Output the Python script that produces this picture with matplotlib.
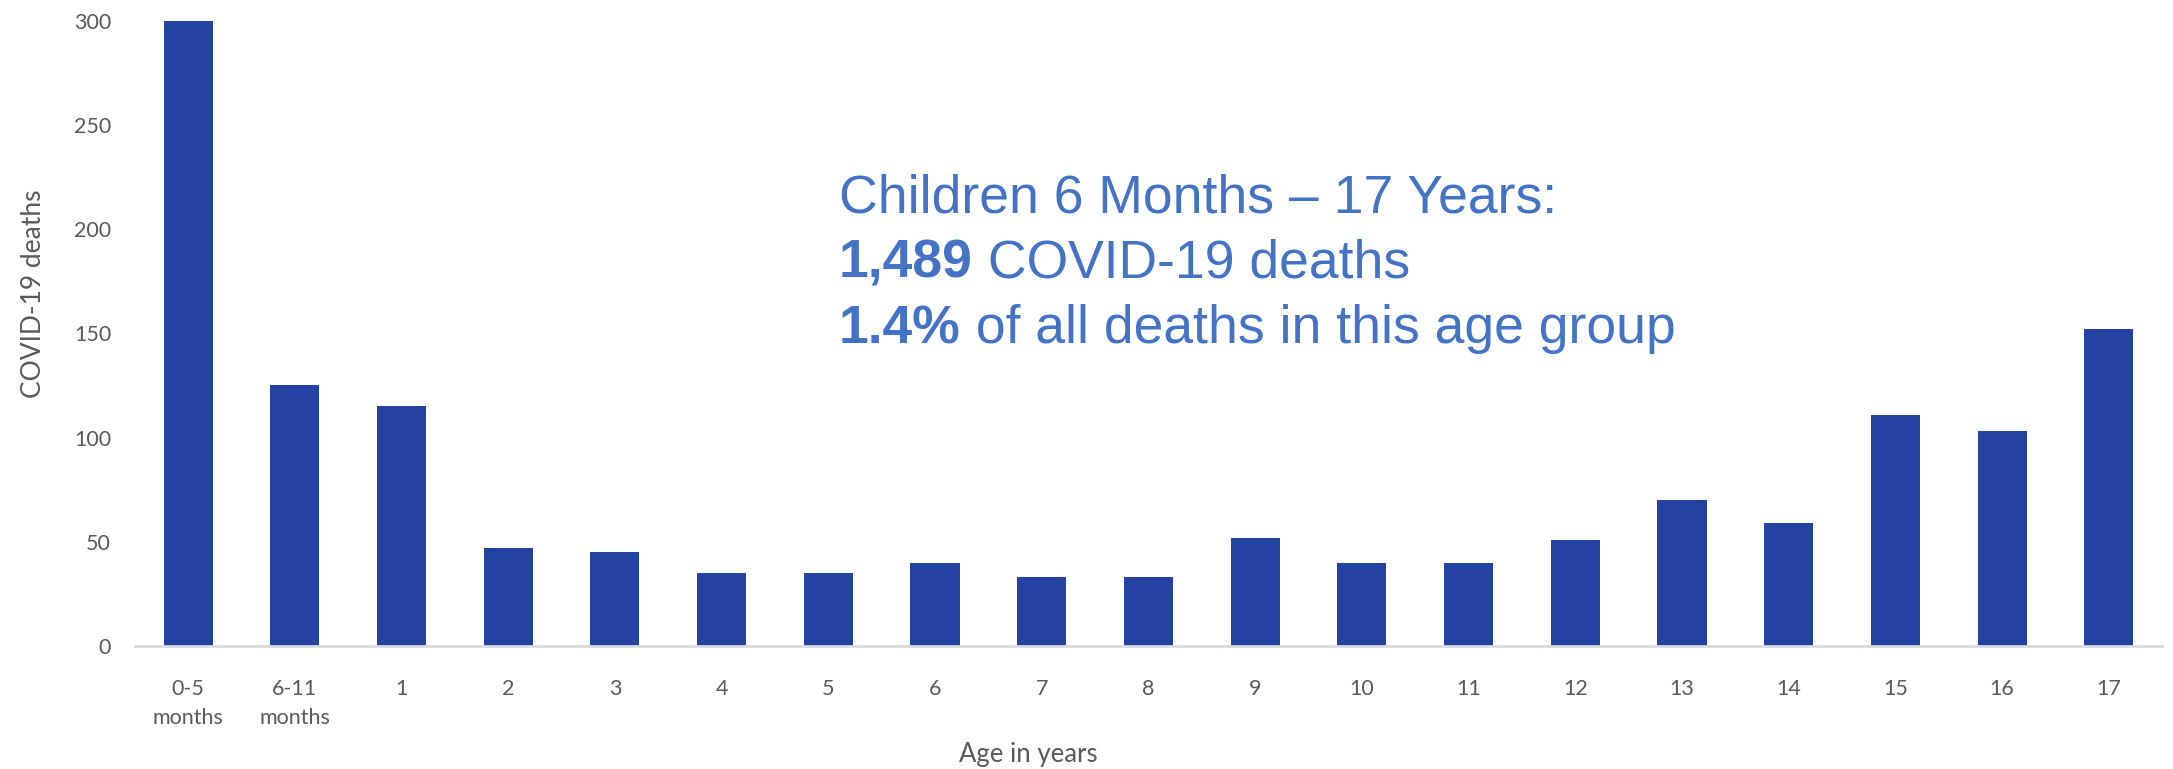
import numpy as np
import matplotlib.pyplot as plt

########
# Data #
########
ages = ["0-5\nmonths", "6-11\nmonths", "1", "2", "3", "4", "5", "6", "7", "8",
        "9", "10", "11", "12", "13", "14", "15", "16", "17"]
deaths = [300, 125, 115, 47, 45, 35, 35, 40, 33, 33,
          52, 40, 40, 51, 70, 59, 111, 103, 152]
y_ticks = [0, 50, 100, 150, 200, 250, 300]

note_title = "Children 6 Months \u2013 17 Years:"
note_total = "1,489"
note_share = "1.4%"

bar_color = "#2442a2"
grey = "#595959"
note_color = "#4472c4"

##########
# Figure #
##########
plt.rcParams["font.family"] = ["Lato", "DejaVu Sans"]

fig = plt.figure(figsize=(21.73, 7.69), dpi=100)
ax = fig.add_axes([0.062, 0.16, 0.933, 0.813])

x = np.arange(len(ages))
ax.bar(x, deaths, width=0.46, color=bar_color)

ax.set_xlim(-0.5, len(ages) - 0.5)
ax.set_ylim(0, 300)
ax.set_yticks(y_ticks)
ax.set_xticks(x)
ax.set_xticklabels(ages, linespacing=1.55)
ax.tick_params(axis="both", length=0, labelsize=15.5, labelcolor=grey)
ax.tick_params(axis="x", pad=24)
ax.tick_params(axis="y", pad=17)

for s in ["top", "right", "left"]:
    ax.spines[s].set_visible(False)
ax.spines["bottom"].set_color("#d9d9d9")
ax.spines["bottom"].set_linewidth(2)

ax.set_ylabel("COVID-19 deaths", fontsize=19, color=grey)
ax.yaxis.set_label_coords(-0.044, 0.563)
fig.text(0.473, 0.003, "Age in years", fontsize=18.5, color=grey, ha="center", va="bottom")

# encadré de texte
tx, ty = 0.386, 0.742
fs = 38.5
fig.text(tx, ty, note_title, fontsize=fs, color=note_color,
         family="Liberation Sans", va="center")
t1 = fig.text(tx, ty - 0.085, note_total, fontsize=fs, color=note_color,
              family="Liberation Sans", weight="bold", va="center")
t2 = fig.text(tx, ty - 0.17, note_share, fontsize=fs, color=note_color,
              family="Liberation Sans", weight="bold", va="center")

fig.canvas.draw()
r = fig.canvas.get_renderer()
for t, rest in [(t1, " COVID-19 deaths"), (t2, " of all deaths in this age group")]:
    bb = t.get_window_extent(r)
    x1 = bb.x1 / fig.bbox.width
    fig.text(x1, t.get_position()[1], rest, fontsize=fs, color=note_color,
             family="Liberation Sans", va="center")

fig.savefig("out.png", dpi=100)
